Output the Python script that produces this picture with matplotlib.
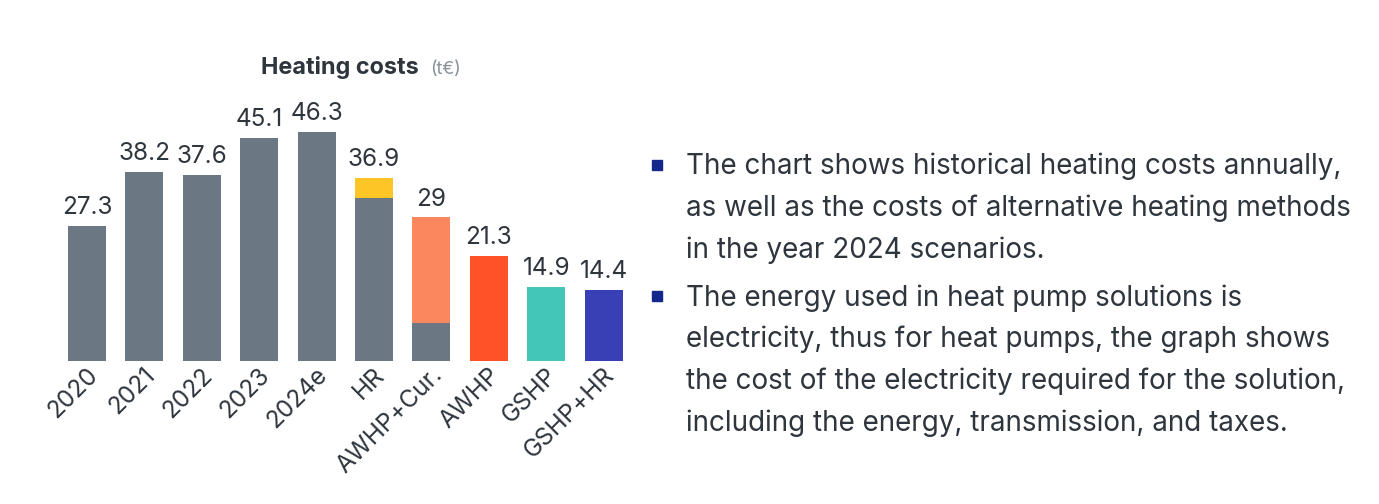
import numpy as np
import matplotlib.pyplot as plt
from matplotlib.transforms import offset_copy

plt.rcParams['font.family'] = ['Inter', 'DejaVu Sans']

# data
categories = ['2020', '2021', '2022', '2023', '2024e', 'HR', 'AWHP+Cur.', 'AWHP', 'GSHP', 'GSHP+HR']
totals = [27.3, 38.2, 37.6, 45.1, 46.3, 36.9, 29, 21.3, 14.9, 14.4]
base_part = [27.3, 38.2, 37.6, 45.1, 46.3, 32.9, 7.7, 21.3, 14.9, 14.4]
top_part = [0, 0, 0, 0, 0, 4.0, 21.3, 0, 0, 0]

bullets = [
    "The chart shows historical heating costs annually,\n"
    "as well as the costs of alternative heating methods\n"
    "in the year 2024 scenarios.",
    "The energy used in heat pump solutions is\n"
    "electricity, thus for heat pumps, the graph shows\n"
    "the cost of the electricity required for the solution,\n"
    "including the energy, transmission, and taxes.",
]

GRAY = '#6b7783'
base_colors = [GRAY] * 7 + ['#ff5228', '#43c6b7', '#3940b5']
top_colors = ['none'] * 5 + ['#fdc526', '#fa875e', 'none', 'none', 'none']
TXT = '#2e353d'

W, H = 1379, 504
fig = plt.figure(figsize=(W / 100, H / 100), dpi=100)

# axes in pixel geometry
left_px, right_px = 58.3, 632.3
base_px = 361
ymax = 50
h_px = ymax * 4.95
ax = fig.add_axes([left_px / W, 1 - base_px / H, (right_px - left_px) / W, h_px / H])

x = np.arange(len(categories))
ax.bar(x, base_part, width=0.662, color=base_colors)
ax.bar(x, top_part, bottom=base_part, width=0.662, color=top_colors)

for xi, t in zip(x, totals):
    ax.annotate(f'{t:g}', (xi, t), xytext=(0, 5), textcoords='offset points',
                ha='center', va='bottom', fontsize=17.5, color=TXT)

ax.set_xlim(-0.5, len(categories) - 0.5)
ax.set_ylim(0, ymax)
ax.set_yticks([])
ax.set_xticks(x)
ax.set_xticklabels(categories, rotation=45, ha='right', va='top',
                   rotation_mode='anchor', fontsize=17.5, color=TXT)
ax.tick_params(axis='x', length=0, pad=4)
for lbl in ax.get_xticklabels():
    lbl.set_transform(offset_copy(lbl.get_transform(), fig=fig, x=-1, y=3, units='dots'))
for s in ax.spines.values():
    s.set_visible(False)

# title
fig.text(261 / W, 1 - 74 / H, 'Heating costs', fontsize=16.9, fontweight='bold',
         color=TXT, ha='left', va='baseline')
fig.text(430 / W, 1 - 74 / H, '(t€)', fontsize=13, color='#8a9198',
         ha='left', va='baseline')

# bullet text
starts = [174, 305]
for b, y0 in zip(bullets, starts):
    fig.text(686 / W, 1 - (y0 - 21) / H, b, fontsize=20.05, color=TXT,
             ha='left', va='top', linespacing=1.66)
    fig.patches.append(plt.Rectangle((652 / W, 1 - (y0 - 4) / H), 10 / W, 10 / H,
                                     transform=fig.transFigure, color='#13288a'))

fig.savefig('out.png', dpi=100)
